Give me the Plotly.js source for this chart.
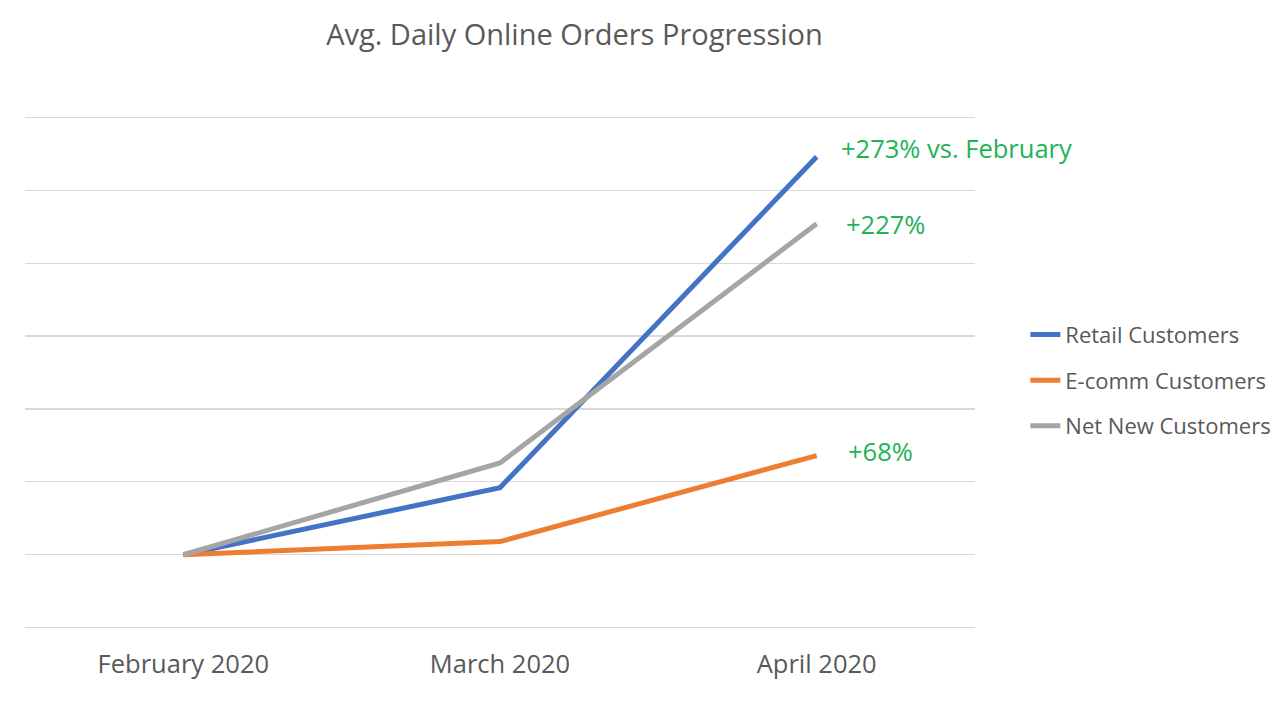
<!DOCTYPE html>
<html>
<head>
<meta charset="utf-8">
<script src="https://cdn.plot.ly/plotly-3.0.1.min.js"></script>
<style>html,body{margin:0;padding:0;background:#fff;}#chart{width:1288px;height:706px;}</style>
</head>
<body>
<div id="chart"></div>
<script>
const months = ["February 2020", "March 2020", "April 2020"];
const retail = [1.00, 1.46, 3.73];
const ecomm = [1.00, 1.09, 1.68];
const netNew = [1.00, 1.63, 3.27];
const seriesNames = ["Retail Customers", "E-comm Customers", "Net New Customers"];
const seriesColors = ["#4472C4", "#ED7D31", "#A5A5A5"];
const labels = ["+273% vs. February", "+68%", "+227%"];

const FONT = "Open Sans, Noto Sans, sans-serif";
const series = [retail, ecomm, netNew];
const data = series.map((vals, i) => ({
  type: "scatter", mode: "lines", x: months, y: vals, name: seriesNames[i],
  legendgroup: "g" + i,
  line: {color: seriesColors[i], width: 5}
}));

const yShifts = [9, 5, 0];
const xShifts = [22, 29, 27];
const annotations = series.map((vals, i) => ({
  x: months[2], y: vals[2], xref: "x", yref: "y", text: labels[i],
  showarrow: false, xanchor: "left", yanchor: "middle", xshift: xShifts[i], yshift: yShifts[i],
  font: {family: FONT, size: 25.5, color: "#22B257"}
}));

const layout = {
  width: 1288, height: 706,
  margin: {l: 25, r: 313, t: 113, b: 74},
  paper_bgcolor: "#fff", plot_bgcolor: "#fff",
  title: {text: "Avg. Daily Online Orders Progression", x: 0.446, xanchor: "center", y: 0.95, yanchor: "middle",
          font: {family: FONT, size: 29, color: "#595959"}},
  xaxis: {type: "category", range: [-0.5, 2.5], showgrid: false, zeroline: false, showline: false,
          ticks: "", ticklabelstandoff: 14, tickfont: {family: FONT, size: 25.5, color: "#595959"}},
  yaxis: {range: [0.47, 4.03], dtick: 0.5, tick0: 0.5, showgrid: true, gridcolor: "#D9D9D9", gridwidth: 1.3,
          zeroline: false, showticklabels: false, showline: false, ticks: ""},
  showlegend: true,
  legend: {x: 1.053, xanchor: "left", y: 0.485, yanchor: "middle", bgcolor: "rgba(0,0,0,0)",
           traceorder: "grouped", tracegroupgap: 14,
           font: {family: FONT, size: 22, color: "#595959"}},
  annotations: annotations
};
Plotly.newPlot("chart", data, layout, {displayModeBar: false, staticPlot: true});
</script>
</body>
</html>
